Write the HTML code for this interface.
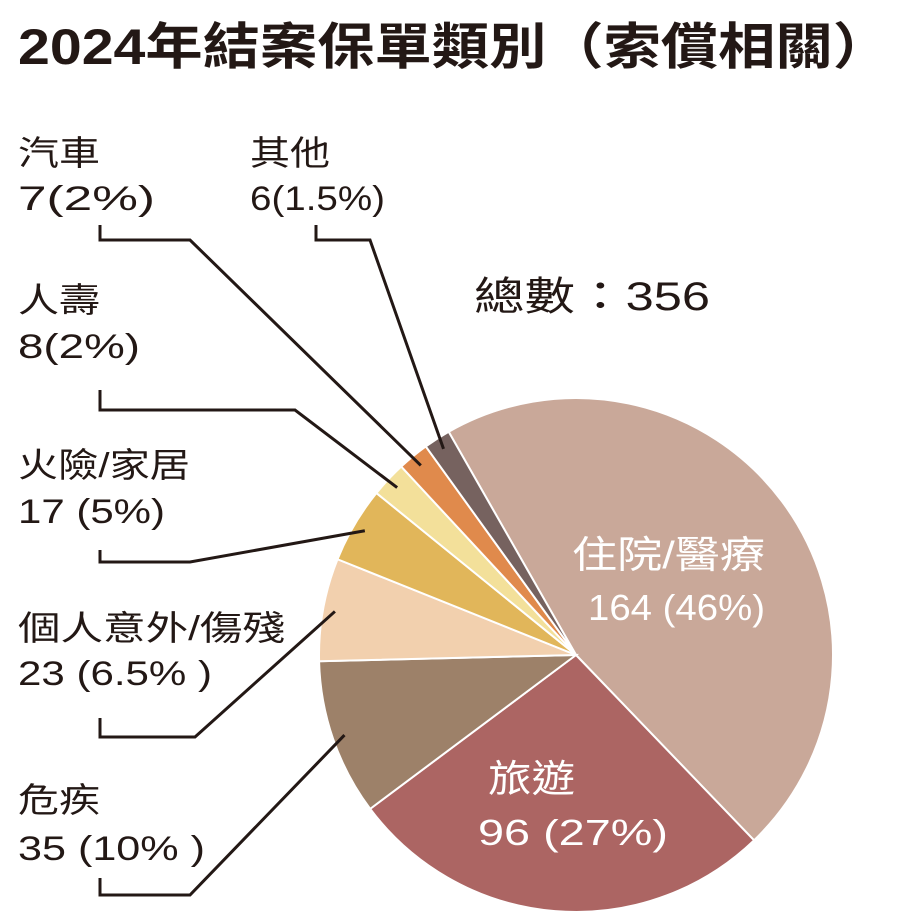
<!DOCTYPE html>
<html><head><meta charset="utf-8">
<style>
html,body{margin:0;padding:0;background:#fff;}
svg{display:block;font-family:"Liberation Sans","Noto Sans CJK TC",sans-serif;}
</style></head>
<body>
<svg width="907" height="924" viewBox="0 0 907 924">
<text x="18" y="64" font-size="50" font-weight="bold" fill="#231815" textLength="872" lengthAdjust="spacingAndGlyphs">2024年結案保單類別（索償相關）</text>
<text x="474" y="310" font-size="40" fill="#231815" textLength="236" lengthAdjust="spacingAndGlyphs">總數：356</text>
<g id="slices"></g>
<g id="leaders" fill="none" stroke="#231815" stroke-width="3"></g>
<g id="labels" font-size="34" fill="#231815"></g>
<text x="572" y="568" font-size="38" fill="#fff" textLength="193" lengthAdjust="spacingAndGlyphs">住院/醫療</text>
<text x="588" y="620" font-size="36" fill="#fff" textLength="177" lengthAdjust="spacingAndGlyphs">164 (46%)</text>
<text x="488" y="792" font-size="38" fill="#fff" textLength="87" lengthAdjust="spacingAndGlyphs">旅遊</text>
<text x="478" y="845" font-size="36" fill="#fff" textLength="190" lengthAdjust="spacingAndGlyphs">96 (27%)</text>
</svg>
<script>
const categories=["住院/醫療","旅遊","危疾","個人意外/傷殘","火險/家居","人壽","汽車","其他"];
const values=[164,96,35,23,17,8,7,6];
const colors=["#c9a899","#ac6563","#9d8169","#f2d0ae","#e1b65a","#f3e09a","#e08a4c","#76625f"];
const sideLabels=[null,null,["危疾","35 (10% )"],["個人意外/傷殘","23 (6.5% )"],["火險/家居","17 (5%)"],["人壽","8(2%)"],["汽車","7(2%)"],["其他","6(1.5%)"]];
const NS="http://www.w3.org/2000/svg";
const cx=576,cy=655,r=257,start=-29.7;
const total=values.reduce((a,b)=>a+b,0);
function pt(deg,rad){const a=deg*Math.PI/180;return [cx+rad*Math.sin(a),cy-rad*Math.cos(a)];}
const g=document.getElementById('slices');
let acc=start;const mids=[];
values.forEach((v,i)=>{
 const sw=v/total*360;const a0=acc,a1=acc+sw;acc=a1;mids.push((a0+a1)/2);
 const p0=pt(a0,r),p1=pt(a1,r);
 const p=document.createElementNS(NS,'path');
 p.setAttribute('d',`M${cx},${cy}L${p0[0]},${p0[1]}A${r},${r} 0 ${sw>180?1:0} 1 ${p1[0]},${p1[1]}Z`);
 p.setAttribute('fill',colors[i]);p.setAttribute('stroke','#fff');p.setAttribute('stroke-width','2');
 
 
 g.appendChild(p);
});
const anchors={
 2:[18,812,860,100,878,895,190,82,187],
 3:[18,640,685,100,718,737,195,267,194],
 4:[18,477,523,100,550,562,190,172,147],
 5:[18,312,358,100,390,410,295,82,122],
 6:[18,165,210,100,225,240,190,82,137],
 7:[250,165,210,316,225,240,370,80,135]};
const L=document.getElementById('leaders'),T=document.getElementById('labels');
Object.keys(anchors).forEach(k=>{
 const i=+k,[tx,y1,y2,lx,lt,ey,ex,w1,w2]=anchors[k];
 const e=pt(mids[i],r-12);
 const pl=document.createElementNS(NS,'polyline');
 pl.setAttribute('points',`${lx},${lt} ${lx},${ey} ${ex},${ey} ${e[0]},${e[1]}`);
 
 
 L.appendChild(pl);
 const t1=document.createElementNS(NS,'text');
 t1.setAttribute('x',tx);t1.setAttribute('y',y1);t1.textContent=sideLabels[i][0];
 t1.setAttribute('textLength',w1);t1.setAttribute('lengthAdjust','spacingAndGlyphs');
 
 
 T.appendChild(t1);
 const t2=document.createElementNS(NS,'text');
 t2.setAttribute('x',tx);t2.setAttribute('y',y2);t2.textContent=sideLabels[i][1];
 t2.setAttribute('textLength',w2);t2.setAttribute('lengthAdjust','spacingAndGlyphs');
 
 
 T.appendChild(t2);
});
</script>
</body></html>
